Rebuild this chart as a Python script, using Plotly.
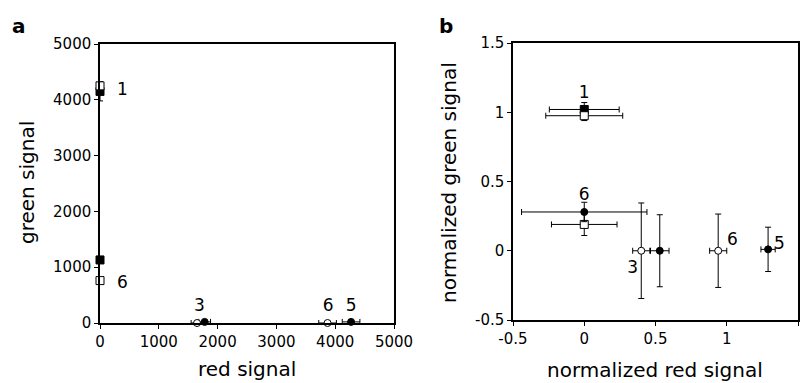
import plotly.graph_objects as go

OFF = 8  # page body margin
W, H = 808 - OFF, 383 - OFF

# ---- Panel a data ----
a_fsq_x = [0, 0]
a_fsq_y = [4150, 1130]
a_fsq_ey = [170, 50]

a_osq_x = [0, 0]
a_osq_y = [4250, 760]
a_osq_ey = [70, 50]

a_fci_x = [1780, 4270]
a_fci_y = [20, 20]
a_fci_ex = [100, 150]

a_oci_x = [1650, 3870]
a_oci_y = [0, 0]
a_oci_ex = [100, 150]

a_lab_text = ["1", "6", "3", "6", "5"]
a_lab_x = [380, 380, 1690, 3880, 4270]
a_lab_y = [4170, 700, 300, 300, 300]

# ---- Panel b data ----
b_fsq_x = [0]
b_fsq_y = [1.02]
b_fsq_ex = [0.245]
b_fsq_ey = [0.05]

b_osq_x = [0, 0]
b_osq_y = [0.975, 0.19]
b_osq_ex = [0.27, 0.23]
b_osq_ey = [0.035, 0.08]

b_fci_x = [0, 0.53, 1.29]
b_fci_y = [0.28, 0, 0.01]
b_fci_ex = [0.44, 0.065, 0.05]
b_fci_ey = [0.07, 0.26, 0.16]

b_oci_x = [0.40, 0.94]
b_oci_y = [0, 0]
b_oci_ex = [0.06, 0.06]
b_oci_ey = [0.345, 0.265]

b_lab_text = ["1", "6", "3", "6", "5"]
b_lab_x = [0.0, 0.0, 0.34, 1.04, 1.37]
b_lab_y = [1.13, 0.40, -0.13, 0.07, 0.04]

FONT = "DejaVu Sans"
fig = go.Figure()

def err(arr, w=3):
    return dict(type="data", array=arr, visible=True, color="black", thickness=1, width=w)

def add(x, y, xa, ya, filled, symbol, ex=None, ey=None, size=7):
    fig.add_trace(go.Scatter(
        x=x, y=y, mode="markers", xaxis=xa, yaxis=ya, cliponaxis=False,
        marker=dict(symbol=symbol, size=size, color="black" if filled else "white",
                    line=dict(color="black", width=1)),
        error_x=err(ex) if ex is not None else None,
        error_y=err(ey) if ey is not None else None,
        showlegend=False))

# panel a
add(a_fci_x, a_fci_y, "x", "y", True, "circle", ex=a_fci_ex)
add(a_oci_x, a_oci_y, "x", "y", False, "circle", ex=a_oci_ex)
add(a_fsq_x, a_fsq_y, "x", "y", True, "square", ey=a_fsq_ey, size=8)
add(a_osq_x, a_osq_y, "x", "y", False, "square", ey=a_osq_ey, size=8)

# panel b
add(b_fsq_x, b_fsq_y, "x2", "y2", True, "square", ex=b_fsq_ex, ey=b_fsq_ey, size=8)
add(b_osq_x, b_osq_y, "x2", "y2", False, "square", ex=b_osq_ex, ey=b_osq_ey, size=8)
add(b_fci_x, b_fci_y, "x2", "y2", True, "circle", ex=b_fci_ex, ey=b_fci_ey)
add(b_oci_x, b_oci_y, "x2", "y2", False, "circle", ex=b_oci_ex, ey=b_oci_ey)

# point labels
fig.add_trace(go.Scatter(x=a_lab_x, y=a_lab_y, text=a_lab_text, mode="text", xaxis="x", yaxis="y",
                         textfont=dict(family=FONT, size=17, color="black"), cliponaxis=False,
                         showlegend=False))
fig.add_trace(go.Scatter(x=b_lab_x, y=b_lab_y, text=b_lab_text, mode="text", xaxis="x2", yaxis="y2",
                         textfont=dict(family=FONT, size=17, color="black"), cliponaxis=False,
                         showlegend=False))

def px_x(p): return (p - OFF) / W
def px_y(p): return 1 - (p - OFF) / H

axcommon = dict(showgrid=False, zeroline=False, showline=True, linecolor="black", linewidth=1.5,
                mirror=True, ticks="outside", ticklen=4, tickcolor="black", automargin=False,
                tickfont=dict(family=FONT, size=15, color="black"))

fig.update_layout(
    width=W, height=H, margin=dict(l=0, r=0, t=0, b=0),
    paper_bgcolor="white", plot_bgcolor="white",
    xaxis=dict(domain=[px_x(100), px_x(394)], range=[0, 5000], tickvals=[0, 1000, 2000, 3000, 4000, 5000],
               anchor="y", **axcommon),
    yaxis=dict(domain=[px_y(323), px_y(44)], range=[0, 5000], tickvals=[0, 1000, 2000, 3000, 4000, 5000],
               anchor="x", **axcommon),
    xaxis2=dict(domain=[px_x(513), px_x(798)], range=[-0.5, 1.5], tickvals=[-0.5, 0, 0.5, 1, 1.5],
                ticktext=["-0.5", "0", "0.5", "1", "1.5"], anchor="y2", **axcommon),
    yaxis2=dict(domain=[px_y(320), px_y(43)], range=[-0.5, 1.5], tickvals=[-0.5, 0, 0.5, 1, 1.5],
                ticktext=["-0.5", "0", "0.5", "1", "1.5"], anchor="x2", **axcommon),
)

tf = dict(family=FONT, size=20, color="black")
anns = [
    dict(text="<b>a</b>", x=px_x(19), y=px_y(26), xanchor="center", yanchor="middle", font=dict(family=FONT, size=20, color="black")),
    dict(text="<b>b</b>", x=px_x(446), y=px_y(26), xanchor="center", yanchor="middle", font=dict(family=FONT, size=20, color="black")),
    dict(text="green signal", x=px_x(27), y=px_y(183), textangle=-90, xanchor="center", yanchor="middle", font=tf),
    dict(text="red signal", x=px_x(247), y=px_y(369), xanchor="center", yanchor="middle", font=tf),
    dict(text="normalized green signal", x=px_x(449), y=px_y(183), textangle=-90, xanchor="center", yanchor="middle", font=tf),
    dict(text="normalized red signal", x=px_x(655), y=px_y(370), xanchor="center", yanchor="middle", font=tf),
]
for a in anns:
    a.update(xref="paper", yref="paper", showarrow=False)
fig.update_layout(annotations=anns)

fig.write_html("out.html")
